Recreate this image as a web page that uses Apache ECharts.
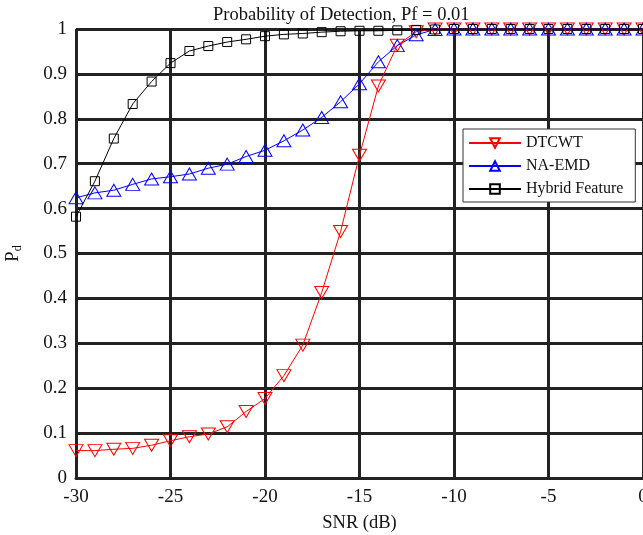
<!DOCTYPE html>
<html>
<head>
<meta charset="utf-8">
<script src="https://cdn.jsdelivr.net/npm/echarts@6/dist/echarts.min.js"></script>
<style>
  html, body { margin: 0; padding: 0; background: #fff; }
  #chart { width: 643px; height: 535px; }
</style>
</head>
<body>
<div id="chart"></div>
<script>
// SNR values (dB)
const snr = [-30, -29, -28, -27, -26, -25, -24, -23, -22, -21, -20, -19, -18, -17, -16, -15,
  -14, -13, -12, -11, -10, -9, -8, -7, -6, -5, -4, -3, -2, -1, 0];

const dtcwt = [0.061, 0.061, 0.064, 0.066, 0.073, 0.083, 0.092, 0.098, 0.114, 0.148, 0.177, 0.228,
  0.296, 0.413, 0.549, 0.719, 0.873, 0.964, 0.994, 1, 1, 1, 1, 1, 1, 1, 1, 1, 1, 1, 1];
const naEmd = [0.624, 0.635, 0.641, 0.654, 0.666, 0.671, 0.677, 0.690, 0.699, 0.716, 0.730, 0.751,
  0.775, 0.803, 0.838, 0.878, 0.927, 0.963, 0.987, 0.999, 1, 1, 1, 1, 1, 1, 1, 1, 1, 1, 1];
const hybrid = [0.582, 0.661, 0.756, 0.833, 0.883, 0.924, 0.951, 0.962, 0.971, 0.977, 0.984, 0.988,
  0.990, 0.993, 0.995, 0.996, 0.996, 0.997, 0.998, 0.999, 1, 1, 1, 1, 1, 1, 1, 1, 1, 1, 1];

const pair = (ys) => snr.map((x, i) => [x, ys[i]]);
const font = 'Liberation Serif';

const chart = echarts.init(document.getElementById('chart'));

const option = {
  animation: false,
  backgroundColor: '#fff',
  title: {
    text: 'Probability of Detection, Pf = 0.01',
    left: 208,
    top: 1,
    textStyle: { fontFamily: font, fontSize: 18.5, fontWeight: 'normal', color: '#111' }
  },
  legend: {
    orient: 'vertical',
    left: 463,
    top: 129,
    itemWidth: 52,
    itemHeight: 12,
    itemGap: 7,
    padding: [6, 12, 5, 5],
    backgroundColor: '#fff',
    borderColor: '#333',
    borderWidth: 1,
    borderRadius: 0,
    textStyle: { fontFamily: font, fontSize: 16, color: '#111' },
    data: ['DTCWT', 'NA-EMD', 'Hybrid Feature']
  },
  grid: { left: 76, right: 0, top: 29, bottom: 57, outerBoundsMode: 'none' },
  xAxis: {
    type: 'value',
    min: -30,
    max: 0,
    interval: 5,
    name: 'SNR (dB)',
    nameLocation: 'middle',
    nameGap: 36,
    nameTextStyle: { fontFamily: font, fontSize: 18.5, color: '#111' },
    axisLine: { lineStyle: { color: '#222', width: 3 } },
    axisTick: { show: false },
    axisLabel: { fontFamily: font, fontSize: 19, color: '#111', margin: 10 },
    splitLine: { lineStyle: { color: '#222', width: 3 } }
  },
  yAxis: {
    type: 'value',
    min: 0,
    max: 1,
    interval: 0.1,
    name: 'P{sub|d}',
    nameLocation: 'middle',
    nameGap: 52,
    nameRotate: 90,
    nameTextStyle: {
      fontFamily: font, fontSize: 18.5, color: '#111',
      rich: { sub: { fontFamily: font, fontSize: 12, color: '#111', padding: [9, 0, 0, 0] } }
    },
    axisLine: { show: true, lineStyle: { color: '#222', width: 3 } },
    axisTick: { show: false },
    axisLabel: { fontFamily: font, fontSize: 19, color: '#111', margin: 9 },
    splitLine: { lineStyle: { color: '#222', width: 3 } }
  },
  series: [
    {
      name: 'DTCWT',
      type: 'line',
      data: pair(dtcwt),
      color: '#ff0000',
      symbol: 'triangle',
      symbolRotate: 180,
      symbolSize: [14, 12],
      showAllSymbol: true,
      lineStyle: { width: 1, color: '#ff0000' },
      itemStyle: { color: 'rgba(255,255,255,0)', borderColor: '#ff0000', borderWidth: 1 }
    },
    {
      name: 'NA-EMD',
      type: 'line',
      data: pair(naEmd),
      color: '#0000ff',
      symbol: 'triangle',
      symbolSize: [14, 12],
      showAllSymbol: true,
      lineStyle: { width: 1, color: '#0000ff' },
      itemStyle: { color: 'rgba(255,255,255,0)', borderColor: '#0000ff', borderWidth: 1 }
    },
    {
      name: 'Hybrid Feature',
      type: 'line',
      data: pair(hybrid),
      color: '#000',
      symbol: 'rect',
      symbolSize: 9,
      showAllSymbol: true,
      lineStyle: { width: 1, color: '#000' },
      itemStyle: { color: 'rgba(255,255,255,0)', borderColor: '#000', borderWidth: 1 }
    }
  ]
};

chart.setOption(option);
</script>
</body>
</html>
